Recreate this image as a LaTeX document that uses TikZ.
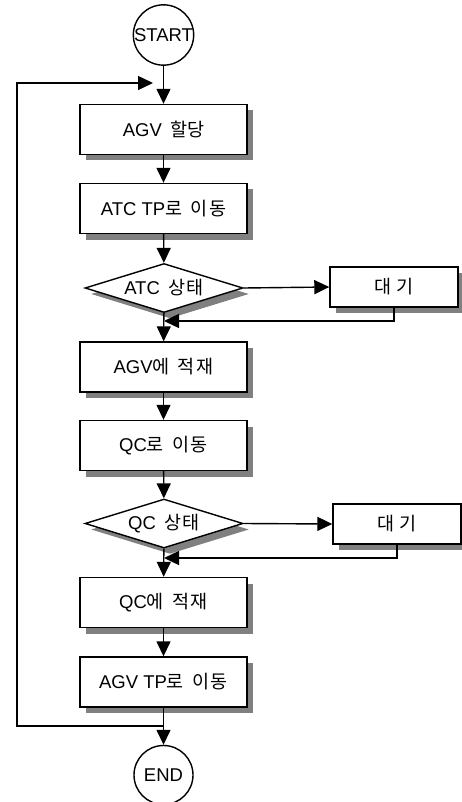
\documentclass[tikz,border=0pt]{standalone}
\usepackage{fontspec}
\setmainfont{Liberation Sans}
\newfontfamily\kr{Noto Sans CJK KR}
\usetikzlibrary{shapes.geometric,shadows,arrows.meta}
\begin{document}
\begin{tikzpicture}[x=1pt,y=-1pt,
  line width=1.4pt,
  font=\fontsize{18.5}{22}\selectfont,
  shad/.style={drop shadow={shadow xshift=6pt,shadow yshift=-6pt,fill=black!50,opacity=1}},
  procbox/.style={draw,fill=white,shad,minimum width=167pt,minimum height=50pt,inner sep=0pt},
  waitbox/.style={draw,fill=white,shad,minimum width=128pt,minimum height=40pt,inner sep=0pt},
  decis/.style={draw,fill=white,shad,diamond,aspect=3.22,minimum width=158pt,minimum height=49pt,inner sep=0pt},
  term/.style={draw,fill=white,circle,minimum size=59pt,inner sep=0pt},
  arr/.style={-{Triangle[length=15pt,width=14pt]}}
]
\useasboundingbox (0,0) rectangle (462,802);
\node[term] (start) at (163.5,35) {START};
\node[procbox] (b1) at (163.5,129.5) {AGV\hspace{0.45em}{\kr 할당}};
\node[procbox] (b2) at (163.5,208.5) {ATC TP{\kr 로\hspace{0.45em}이\hspace{0.08em}동}};
\node[decis] (d1) at (164,288) {ATC\hspace{0.45em}{\kr 상\hspace{0.08em}태}};
\node[waitbox] (w1) at (394,287) {\kr 대\hspace{0.25em}기};
\node[procbox] (b3) at (163.5,367) {AGV{\kr 에\hspace{0.45em}적\hspace{0.08em}재}};
\node[procbox] (b4) at (163.5,445.5) {QC{\kr 로\hspace{0.45em}이\hspace{0.08em}동}};
\node[decis] (d2) at (164,523.5) {QC\hspace{0.45em}{\kr 상\hspace{0.08em}태}};
\node[waitbox] (w2) at (397,524) {\kr 대\hspace{0.25em}기};
\node[procbox] (b5) at (163.5,602.5) {QC{\kr 에\hspace{0.45em}적\hspace{0.08em}재}};
\node[procbox] (b6) at (163.5,682) {AGV TP{\kr 로\hspace{0.45em}이\hspace{0.08em}동}};
\node[term] (end) at (163.5,775) {END};
\coordinate (j1) at (164,321);
\coordinate (j2) at (164,558);
\coordinate (j3) at (163.5,726);
\coordinate (l1) at (17,726);
\coordinate (l2) at (17,83);
\coordinate (l3) at (153,83);
\draw[arr] (start) -- (b1);
\draw[arr] (b1) -- (b2);
\draw[arr] (b2) -- (d1);
\draw[arr] (d1.east) -- (w1.west);
\draw[arr] (w1.south) |- (j1);
\draw[arr] (d1) -- (b3);
\draw[arr] (b3) -- (b4);
\draw[arr] (b4) -- (d2);
\draw[arr] (d2.east) -- (w2.west);
\draw[arr] (w2.south) |- (j2);
\draw[arr] (d2) -- (b5);
\draw[arr] (b5) -- (b6);
\draw[arr] (b6) -- (end);
\draw[arr] (j3) -- (l1) -- (l2) -- (l3);
\end{tikzpicture}
\end{document}
